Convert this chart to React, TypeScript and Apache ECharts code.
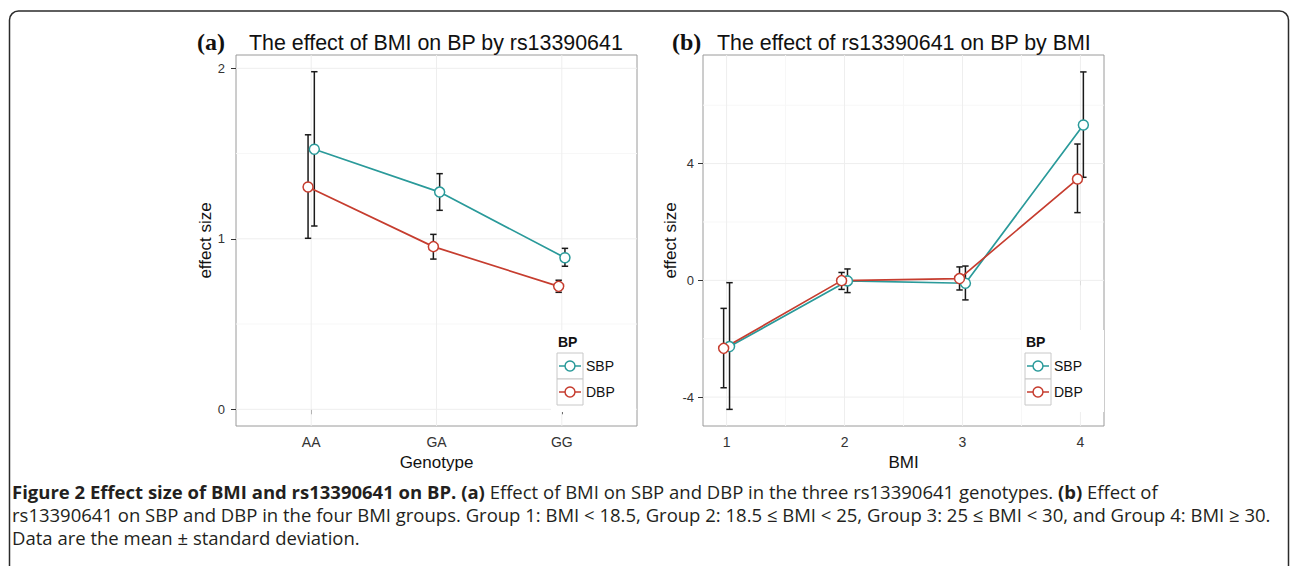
import React, { useEffect, useRef } from "react";
import * as echarts from "echarts";

// ---------- data ----------
const GENOTYPES = ["AA", "GA", "GG"];
const A_SBP = [1.525, 1.274, 0.889];
const A_SBP_LO = [1.075, 1.167, 0.839];
const A_SBP_HI = [1.98, 1.382, 0.944];
const A_DBP = [1.304, 0.954, 0.721];
const A_DBP_LO = [1.003, 0.881, 0.686];
const A_DBP_HI = [1.61, 1.026, 0.757];

const BMI_GROUPS = [1, 2, 3, 4];
const B_SBP = [-2.27, -0.02, -0.1, 5.32];
const B_SBP_LO = [-4.42, -0.42, -0.67, 3.53];
const B_SBP_HI = [-0.08, 0.39, 0.49, 7.14];
const B_DBP = [-2.33, -0.01, 0.06, 3.47];
const B_DBP_LO = [-3.68, -0.31, -0.33, 2.32];
const B_DBP_HI = [-0.96, 0.27, 0.46, 4.67];

const A_YTICKS = [0, 1, 2];
const A_YMINOR = [0.5, 1.5];
const A_XTICKS = [1, 2, 3];
const B_YTICKS = [-4, 0, 4];
const B_YMINOR = [-2, 2, 6];
const B_XTICKS = [1, 2, 3, 4];
const B_XMINOR = [1.5, 2.5, 3.5];

const LEGEND_ITEMS = ["SBP", "DBP"];

// ---------- style ----------
const TEAL = "#2A9A9A";
const RED = "#C63D2F";
const SANS = "Liberation Sans, Arial, sans-serif";
const SERIF = "Liberation Serif, Times New Roman, serif";
const CAP = "Open Sans, sans-serif";
const CAP_SIZE = 18.5;
const DODGE = 0.025;
const SERIES_COLORS = [TEAL, RED];

const A_RANGE = { xmin: 0.4, xmax: 3.6, ymin: -0.098, ymax: 2.078 };
const B_RANGE = { xmin: 0.8, xmax: 4.2, ymin: -4.99, ymax: 7.72 };

function gridLines(idx: number, values: number[], dir: "v" | "h", ref: number, color: string, width: number) {
  return {
    type: "custom",
    xAxisIndex: idx,
    yAxisIndex: idx,
    silent: true,
    z: 1,
    data: values.map((v) => (dir === "v" ? [v, ref] : [ref, v])),
    encode: { x: 0, y: 1 },
    renderItem: (params: any, api: any) => {
      const cs = params.coordSys;
      const p = api.coord([api.value(0), api.value(1)]);
      if (dir === "v") {
        return {
          type: "line",
          shape: { x1: p[0], y1: cs.y, x2: p[0], y2: cs.y + cs.height },
          style: { stroke: color, lineWidth: width },
        };
      }
      return {
        type: "line",
        shape: { x1: cs.x, y1: p[1], x2: cs.x + cs.width, y2: p[1] },
        style: { stroke: color, lineWidth: width },
      };
    },
  };
}

function errorBars(idx: number, xs: number[], lo: number[], hi: number[]) {
  return {
    type: "custom",
    xAxisIndex: idx,
    yAxisIndex: idx,
    silent: true,
    z: 2,
    data: xs.map((x, i) => [x, lo[i], hi[i]]),
    encode: { x: 0, y: [1, 2] },
    renderItem: (params: any, api: any) => {
      const x = api.value(0);
      const a = api.coord([x, api.value(1)]);
      const b = api.coord([x, api.value(2)]);
      const w = 3.2;
      const st = { stroke: "#1a1a1a", lineWidth: 1.5 };
      return {
        type: "group",
        children: [
          { type: "line", shape: { x1: a[0], y1: a[1], x2: b[0], y2: b[1] }, style: st },
          { type: "line", shape: { x1: a[0] - w, y1: a[1], x2: a[0] + w, y2: a[1] }, style: st },
          { type: "line", shape: { x1: b[0] - w, y1: b[1], x2: b[0] + w, y2: b[1] }, style: st },
        ],
      };
    },
  };
}

function lineSeries(idx: number, name: string, xs: number[], ys: number[], color: string) {
  return {
    type: "line",
    name,
    xAxisIndex: idx,
    yAxisIndex: idx,
    z: 3,
    data: xs.map((x, i) => [x, ys[i]]),
    symbol: "circle",
    symbolSize: 10,
    showSymbol: true,
    itemStyle: { color: "#fff", borderColor: color, borderWidth: 1.5 },
    lineStyle: { color, width: 1.7 },
    emphasis: { disabled: true },
  };
}

function legend(bgX: number, bgW: number, keyX: number) {
  const els: any[] = [
    { type: "rect", shape: { x: bgX, y: 330, width: bgW, height: 82 }, style: { fill: "#fff" }, z: 50, silent: true },
    {
      type: "text",
      x: keyX + 1,
      y: 342,
      z: 51,
      style: { text: "BP", fontFamily: SANS, fontWeight: "bold", fontSize: 14, fill: "#111", verticalAlign: "middle" },
    },
  ];
  LEGEND_ITEMS.forEach((name, i) => {
    const y0 = 353 + i * 26;
    const cy = y0 + 13;
    const cx = keyX + 13;
    const c = SERIES_COLORS[i];
    els.push(
      { type: "rect", z: 51, shape: { x: keyX, y: y0, width: 26, height: 26 }, style: { fill: "#fff", stroke: "#c8c8c8", lineWidth: 1 } },
      { type: "line", z: 52, shape: { x1: keyX + 2, y1: cy, x2: keyX + 24, y2: cy }, style: { stroke: c, lineWidth: 1.5 } },
      { type: "circle", z: 53, shape: { cx, cy, r: 5 }, style: { fill: "#fff", stroke: c, lineWidth: 1.5 } },
      {
        type: "text",
        z: 53,
        x: keyX + 29,
        y: cy,
        style: { text: name, fontFamily: SANS, fontSize: 14, fill: "#111", verticalAlign: "middle" },
      }
    );
  });
  return els;
}

function xAxis(idx: number, range: any, ticks: number[], fmt: (v: number) => string, name: string) {
  return {
    type: "value",
    gridIndex: idx,
    min: range.xmin,
    max: range.xmax,
    axisLine: { show: false },
    splitLine: { show: false },
    axisTick: { show: true, length: 5, customValues: ticks, lineStyle: { color: "#333", width: 1 } },
    axisLabel: { customValues: ticks, formatter: fmt, fontFamily: SANS, fontSize: 14, color: "#333", margin: 9 },
    name,
    nameLocation: "middle",
    nameGap: 24,
    nameTextStyle: { fontFamily: SANS, fontSize: 17, color: "#111" },
  };
}

function yAxis(idx: number, range: any, ticks: number[], margin: number) {
  return {
    type: "value",
    gridIndex: idx,
    min: range.ymin,
    max: range.ymax,
    axisLine: { show: false },
    splitLine: { show: false },
    axisTick: { show: true, length: 5, customValues: ticks, lineStyle: { color: "#333", width: 1 } },
    axisLabel: { customValues: ticks, formatter: (v: number) => String(v), fontFamily: SANS, fontSize: 13, color: "#333", margin },
    name: "effect size",
    nameLocation: "middle",
    nameGap: 19,
    nameRotate: 90,
    nameTextStyle: { fontFamily: SANS, fontSize: 17, color: "#111" },
  };
}

export default function App() {
  const ref = useRef<HTMLDivElement>(null);
  useEffect(() => {
    document.body.style.margin = "0";
    const chart = echarts.init(ref.current!, null, { renderer: "svg" });
    const ax = GENOTYPES.map((_, i) => i + 1);
    const bx = BMI_GROUPS.slice();
    const aMidX = 2;
    const bMidX = 2.5;
    const option: any = {
      animation: false,
      backgroundColor: "#fff",
      tooltip: { show: false },
      grid: [
        { left: 236, top: 55, width: 401, height: 371, show: true, borderColor: "#9a9a9a", borderWidth: 1, backgroundColor: "#fff" },
        { left: 703, top: 55, width: 401, height: 371, show: true, borderColor: "#9a9a9a", borderWidth: 1, backgroundColor: "#fff" },
      ],
      xAxis: [
        xAxis(0, A_RANGE, A_XTICKS, (v: number) => GENOTYPES[Math.round(v) - 1] ?? "", "Genotype"),
        xAxis(1, B_RANGE, B_XTICKS, (v: number) => String(v), "BMI"),
      ],
      yAxis: [yAxis(0, A_RANGE, A_YTICKS, 11), yAxis(1, B_RANGE, B_YTICKS, 9)],
      series: [
        gridLines(0, A_YMINOR, "h", aMidX, "#f7f7f7", 1),
        gridLines(0, A_YTICKS, "h", aMidX, "#eeeeee", 1),
        gridLines(0, A_XTICKS, "v", 1, "#eeeeee", 1),
        gridLines(1, B_YMINOR, "h", bMidX, "#f7f7f7", 1),
        gridLines(1, B_XMINOR, "v", 0, "#f7f7f7", 1),
        gridLines(1, B_YTICKS, "h", bMidX, "#eeeeee", 1),
        gridLines(1, B_XTICKS, "v", 0, "#eeeeee", 1),
        errorBars(0, ax.map((x) => x + DODGE), A_SBP_LO, A_SBP_HI),
        errorBars(0, ax.map((x) => x - DODGE), A_DBP_LO, A_DBP_HI),
        errorBars(1, bx.map((x) => x + DODGE), B_SBP_LO, B_SBP_HI),
        errorBars(1, bx.map((x) => x - DODGE), B_DBP_LO, B_DBP_HI),
        lineSeries(0, "SBP", ax.map((x) => x + DODGE), A_SBP, TEAL),
        lineSeries(0, "DBP", ax.map((x) => x - DODGE), A_DBP, RED),
        lineSeries(1, "SBP", bx.map((x) => x + DODGE), B_SBP, TEAL),
        lineSeries(1, "DBP", bx.map((x) => x - DODGE), B_DBP, RED),
      ],
      graphic: [
        {
          type: "rect",
          silent: true,
          z: 0,
          shape: { x: 9.5, y: 11, width: 1279, height: 640, r: 9 },
          style: { fill: "none", stroke: "#2b2b2b", lineWidth: 1.5 },
        },
        { type: "text", x: 197, y: 42, style: { text: "(a)", fontFamily: SERIF, fontWeight: "bold", fontSize: 24, fill: "#111", verticalAlign: "middle" } },
        { type: "text", x: 249, y: 43, style: { text: "The effect of BMI on BP by rs13390641", fontFamily: SANS, fontSize: 21.4, fill: "#111", verticalAlign: "middle" } },
        { type: "text", x: 672, y: 42, style: { text: "(b)", fontFamily: SERIF, fontWeight: "bold", fontSize: 24, fill: "#111", verticalAlign: "middle" } },
        { type: "text", x: 717, y: 43, style: { text: "The effect of rs13390641 on BP by BMI", fontFamily: SANS, fontSize: 21.4, fill: "#111", verticalAlign: "middle" } },
        ...legend(551, 85, 557),
        ...legend(1022, 82, 1025),
        {
          type: "text",
          x: 12,
          y: 491,
          style: {
            text: "{b|Figure 2 Effect size of BMI and rs13390641 on BP.} {b|(a)} Effect of BMI on SBP and DBP in the three rs13390641 genotypes. {b|(b)} Effect of",
            fontFamily: CAP,
            fontSize: CAP_SIZE,
            fill: "#231f20",
            verticalAlign: "middle",
            rich: { b: { fontFamily: CAP, fontSize: CAP_SIZE, fontWeight: "bold", fill: "#231f20" } },
          },
        },
        {
          type: "text",
          x: 12,
          y: 514,
          style: {
            text: "rs13390641 on SBP and DBP in the four BMI groups. Group 1: BMI < 18.5, Group 2: 18.5 ≤ BMI < 25, Group 3: 25 ≤ BMI < 30, and Group 4: BMI ≥ 30.",
            fontFamily: CAP,
            fontSize: CAP_SIZE,
            fill: "#231f20",
            verticalAlign: "middle",
          },
        },
        {
          type: "text",
          x: 12,
          y: 537,
          style: {
            text: "Data are the mean ± standard deviation.",
            fontFamily: CAP,
            fontSize: CAP_SIZE,
            fill: "#231f20",
            verticalAlign: "middle",
          },
        },
      ],
    };
    chart.setOption(option);
    return () => chart.dispose();
  }, []);
  return <div ref={ref} style={{ width: 1290, height: 566, position: "absolute", left: 0, top: 0 }} />;
}
